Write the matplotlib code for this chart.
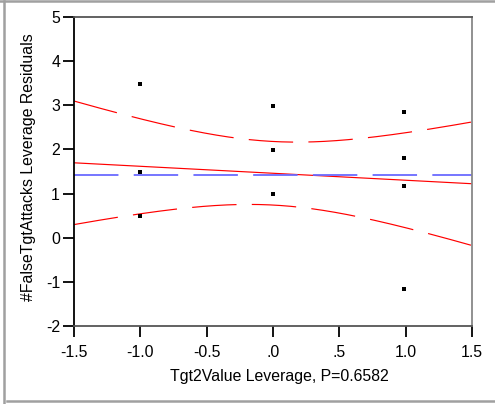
import matplotlib
matplotlib.use('Agg')
import matplotlib.pyplot as plt
import numpy as np
from matplotlib.lines import Line2D

plt.rcParams['font.family'] = ['Liberation Sans', 'DejaVu Sans']
plt.rcParams['lines.scale_dashes'] = False
plt.rcParams['axes.unicode_minus'] = False

# leverage residuals
lev_x = [-1.0, -1.0, -1.0, 0.0, 0.0, 0.0, 0.987, 0.987, 0.987, 0.987]
lev_y = [3.48, 1.49, 0.50, 2.98, 1.99, 1.00, 2.85, 1.81, 1.18, -1.17]

# fitted line, mean line and confidence curve parameters
fit_intercept = 1.46
fit_slope = -0.158
mean_y = 1.43
band_min_half = 0.72
band_spread = 0.80

x_ticks = [-1.5, -1.0, -0.5, 0.0, 0.5, 1.0, 1.5]
x_tick_labels = ['-1.5', '-1.0', '-0.5', '.0', '.5', '1.0', '1.5']
y_ticks = [-2, -1, 0, 1, 2, 3, 4, 5]

fig = plt.figure(figsize=(4.95, 4.04), dpi=100)
ax = fig.add_axes([74 / 495, 1 - 326 / 404, 398 / 495, 309 / 404])

xs = np.linspace(-1.5, 1.5, 300)
fit = fit_intercept + fit_slope * xs
half = np.sqrt(band_min_half ** 2 + band_spread ** 2 * xs ** 2)

dash = (0, (32, 11))
ax.plot(xs, fit + half, color='#ff0000', lw=0.85, linestyle=dash)
ax.plot(xs, fit - half, color='#ff0000', lw=0.85, linestyle=dash)
ax.plot(xs, fit, color='#ff0000', lw=0.85)
ax.axhline(mean_y, color='#6a6aff', lw=1.3, linestyle=dash)
ax.plot(lev_x, lev_y, linestyle='none', marker='s', ms=3.2, color='black', mew=0)

ax.set_xlim(-1.5, 1.5)
ax.set_ylim(-2, 5)
ax.set_xticks(x_ticks)
ax.set_xticklabels(x_tick_labels)
ax.set_yticks(y_ticks)
ax.tick_params(axis='both', direction='out', length=8, width=1.3, color='black',
               labelsize=11.4)
ax.tick_params(axis='x', pad=5.5)
ax.tick_params(axis='y', pad=2)

ax.spines['left'].set_color('black')
ax.spines['left'].set_linewidth(1.3)
ax.spines['bottom'].set_color('#555555')
ax.spines['top'].set_color('#555555')
ax.spines['right'].set_color('#888888')
for s in ['bottom', 'top', 'right']:
    ax.spines[s].set_linewidth(1.3)

ax.set_xlabel('Tgt2Value Leverage, P=0.6582', fontsize=11.4)
ax.set_ylabel('#FalseTgtAttacks Leverage Residuals', fontsize=11.4)
ax.xaxis.set_label_coords(0.516, -0.14)
ax.yaxis.set_label_coords(-0.095, 0.515)

# outer panel frame
frame_kw = dict(transform=fig.transFigure, color='#a0a0a0', lw=1.8)
fig.add_artist(Line2D([0, 1], [1 - 1 / 404, 1 - 1 / 404], **frame_kw))
fig.add_artist(Line2D([4 / 495, 4 / 495], [0, 1 - 1 / 404], **frame_kw))
fig.add_artist(Line2D([7 / 495, 1], [3 / 404, 3 / 404], **frame_kw))

fig.savefig('out.png', dpi=100)
